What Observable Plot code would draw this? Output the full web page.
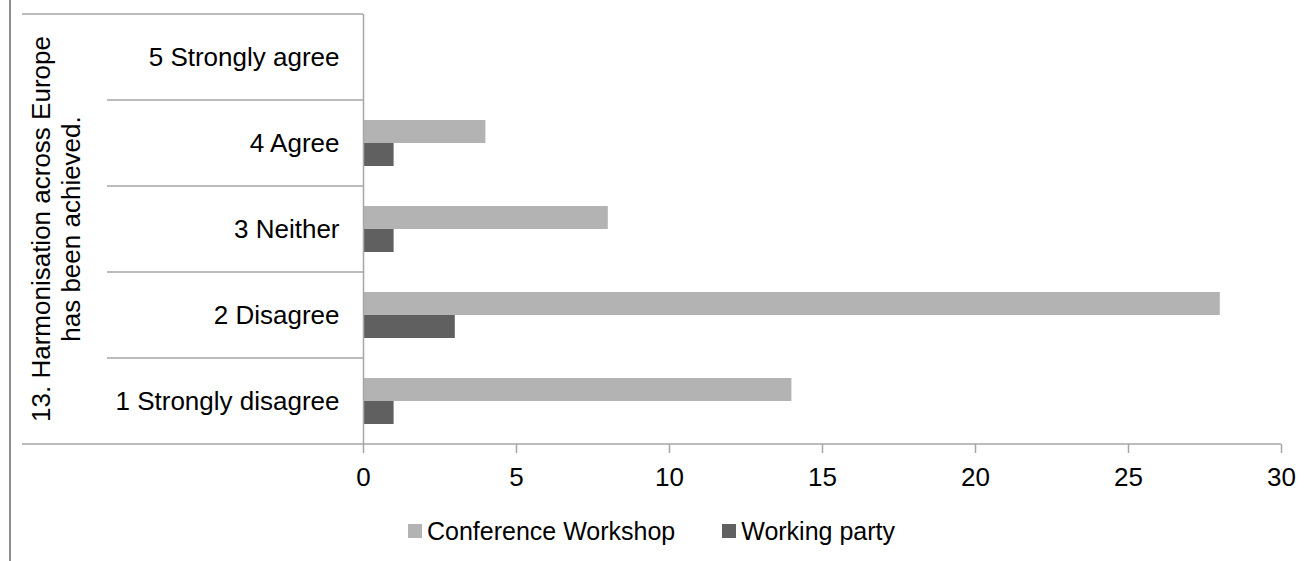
<!DOCTYPE html>
<html>
<head>
<meta charset="utf-8">
<script src="https://cdn.jsdelivr.net/npm/d3@7"></script>
<script src="https://cdn.jsdelivr.net/npm/@observablehq/plot@0.6"></script>
<style>
  html, body { margin: 0; padding: 0; background: #fff; }
  #wrap { position: relative; width: 1313px; height: 561px; overflow: hidden; font-family: "Liberation Sans", Arial, sans-serif; }
  #frame { position: absolute; left: 9px; top: 0; width: 0; height: 561px; border-left: 2px solid #8f8f8f; }
  #legend { position: absolute; left: 0; top: 517px; width: 1313px; display: flex; justify-content: center; gap: 47px; font-size: 25px; line-height: 28px; color: #000; padding-right: 10px; box-sizing: border-box; }
  .item { display: flex; align-items: center; gap: 5px; }
  .sw { width: 14px; height: 14px; display: inline-block; }
</style>
</head>
<body>
<div id="wrap"><div id="frame"></div></div>
<script>
const categories = ["5 Strongly agree", "4 Agree", "3 Neither", "2 Disagree", "1 Strongly disagree"];
const conference = [0, 4, 8, 28, 14];
const workingParty = [0, 1, 1, 3, 1];
const seriesNames = ["Conference Workshop", "Working party"];
const seriesColors = ["#b3b3b3", "#606060"];
const xTicks = [0, 5, 10, 15, 20, 25, 30];
const groupTitle = ["13. Harmonisation across Europe", "has been achieved."];

const rows = [];
categories.forEach((c, i) => {
  rows.push({category: c, series: seriesNames[0], value: conference[i]});
  rows.push({category: c, series: seriesNames[1], value: workingParty[i]});
});

const lineColor = "#a6a6a6";

const plot = Plot.plot({
  width: 1313,
  height: 500,
  marginLeft: 363,
  marginRight: 32,
  marginTop: 14,
  marginBottom: 56,
  style: {fontFamily: "'Liberation Sans', Arial, sans-serif", fontSize: "26px", color: "#000", background: "transparent", overflow: "visible"},
  x: {domain: [0, 30], ticks: xTicks},
  y: {domain: categories, padding: 0, axis: null},
  marks: [
    Plot.barX(rows, {filter: d => d.series === seriesNames[0] && d.value > 0, x: "value", y: "category", fill: seriesColors[0], insetTop: 20, insetBottom: 43}),
    Plot.barX(rows, {filter: d => d.series === seriesNames[1] && d.value > 0, x: "value", y: "category", fill: seriesColors[1], insetTop: 43, insetBottom: 20}),
    Plot.ruleX([0], {stroke: lineColor, strokeWidth: 1.5}),
    Plot.axisX({ticks: xTicks, tickSize: 9, tickPadding: 14, stroke: lineColor, strokeWidth: 1.5, fill: "#000", fontSize: 26, label: null}),
    Plot.axisY({tickSize: 0, tickPadding: 24, fill: "#000", fontSize: 26, label: null})
  ]
});

const wrap = document.getElementById("wrap");
wrap.insertBefore(plot, document.getElementById("frame"));

(function decorate() {
  const svg = d3.select(plot);
  const xs = plot.scale("x");
  const ys = plot.scale("y");
  const bw = ys.bandwidth;
  const yTop = ys.apply(categories[0]);
  const yBottom = ys.apply(categories[categories.length - 1]) + bw;
  const x0 = xs.apply(0);
  const xMax = xs.apply(xTicks[xTicks.length - 1]);
  const g = svg.append("g").attr("stroke", lineColor).attr("stroke-width", 1.5);
  g.append("line").attr("x1", 22).attr("x2", x0).attr("y1", yTop).attr("y2", yTop);
  categories.slice(1).forEach(c => {
    const yy = ys.apply(c);
    g.append("line").attr("x1", 107).attr("x2", x0).attr("y1", yy).attr("y2", yy);
  });
  g.append("line").attr("x1", 22).attr("x2", xMax).attr("y1", yBottom).attr("y2", yBottom);

  const mid = (yTop + yBottom) / 2;
  const t = svg.append("text")
    .attr("transform", `translate(0,${mid}) rotate(-90)`)
    .attr("text-anchor", "middle")
    .attr("font-size", 26)
    .attr("fill", "#000");
  t.append("tspan").attr("x", 0).attr("y", 50).text(groupTitle[0]);
  t.append("tspan").attr("x", 0).attr("y", 80).text(groupTitle[1]);

  const legend = d3.select(wrap).append("div").attr("id", "legend");
  seriesNames.forEach((s, i) => {
    const it = legend.append("div").attr("class", "item");
    it.append("span").attr("class", "sw").style("background", seriesColors[i]);
    it.append("span").text(s);
  });
})();
</script>
</body>
</html>
